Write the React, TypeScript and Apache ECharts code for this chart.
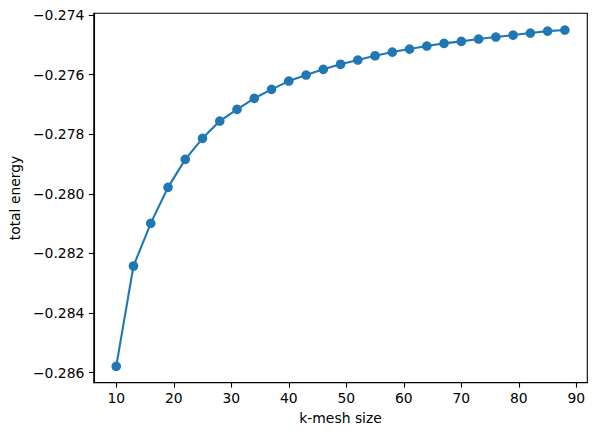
import React, { useEffect, useRef } from "react";
import * as echarts from "echarts";

const kMesh = [10, 13, 16, 19, 22, 25, 28, 31, 34, 37, 40, 43, 46, 49, 52, 55, 58, 61, 64, 67, 70, 73, 76, 79, 82, 85, 88];
const totalEnergy = [
  -0.285789, -0.282423, -0.28099, -0.279782, -0.278842, -0.278138, -0.277557, -0.277164,
  -0.276795, -0.276493, -0.276215, -0.276013, -0.275822, -0.275651, -0.27551, -0.275366,
  -0.275242, -0.275141, -0.27504, -0.27495, -0.274883, -0.274805, -0.274738, -0.274671,
  -0.274604, -0.274537, -0.274503,
];
const xTicks = [10, 20, 30, 40, 50, 60, 70, 80, 90];
const yTicks = [-0.286, -0.284, -0.282, -0.28, -0.278, -0.276, -0.274];

const FONT = "DejaVu Sans";

export default function App() {
  const ref = useRef<HTMLDivElement>(null);
  useEffect(() => {
    if (!ref.current) return;
    const chart = echarts.init(ref.current, undefined, { renderer: "svg" });
    const axisCommon = {
      axisLine: { show: true, lineStyle: { color: "#000", width: 1.1 } },
      axisTick: { show: true, length: 4.9, lineStyle: { color: "#000", width: 1.1 } },
      splitLine: { show: false },
      nameTextStyle: { fontFamily: FONT, fontSize: 13.9, color: "#000" },
    };
    chart.setOption({
      animation: false,
      backgroundColor: "#fff",
      grid: {
        left: 91.3,
        top: 13.3,
        right: 8.7,
        bottom: 53.3,
        show: true,
        borderColor: "#000",
        borderWidth: 1.1,
        containLabel: false,
      },
      xAxis: {
        type: "value",
        min: 6.1,
        max: 91.9,
        name: "k-mesh size",
        nameLocation: "middle",
        nameGap: 28,
        ...axisCommon,
        axisTick: { ...axisCommon.axisTick, customValues: xTicks },
        axisLabel: {
          customValues: xTicks,
          margin: 8,
          fontFamily: FONT,
          fontSize: 13.9,
          color: "#000",
        },
      },
      yAxis: {
        type: "value",
        min: -0.28634,
        max: -0.27394,
        name: "total energy",
        nameLocation: "middle",
        nameGap: 63,
        ...axisCommon,
        axisTick: { ...axisCommon.axisTick, customValues: yTicks },
        axisLabel: {
          customValues: yTicks,
          margin: 9.5,
          fontFamily: FONT,
          fontSize: 13.9,
          color: "#000",
          formatter: (v: number) => (v < 0 ? "\u2212" : "") + Math.abs(v).toFixed(3),
        },
      },
      series: [
        {
          type: "line",
          data: kMesh.map((k, i) => [k, totalEnergy[i]]),
          symbol: "circle",
          symbolSize: 9.6,
          showAllSymbol: true,
          lineStyle: { color: "#1f77b4", width: 2.1 },
          itemStyle: { color: "#1f77b4" },
        },
      ],
    });
    return () => chart.dispose();
  }, []);
  return (
    <div
      ref={ref}
      style={{ position: "fixed", left: 0, top: 0, width: 596, height: 436, background: "#fff" }}
    />
  );
}
